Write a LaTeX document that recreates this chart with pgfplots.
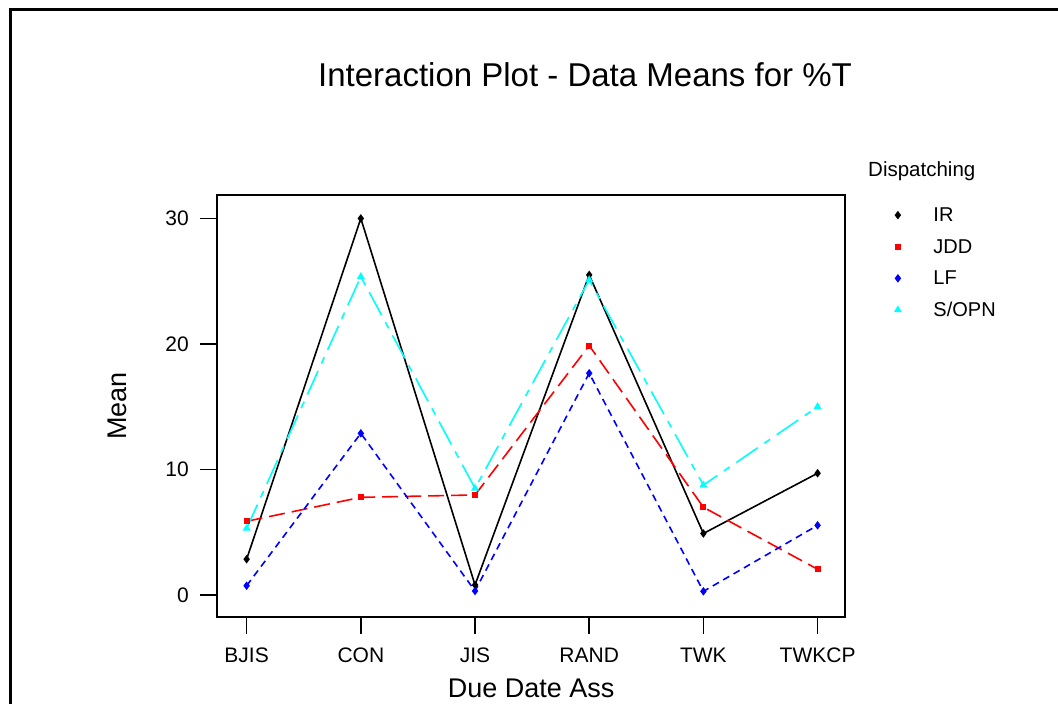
\documentclass[border=0pt]{standalone}
\usepackage{pgfplots}
\pgfplotsset{compat=1.18}
\usepackage{fontspec}
\setmainfont{Liberation Sans}
\definecolor{mcyan}{RGB}{0,255,255}
\definecolor{mred}{RGB}{255,0,0}
\definecolor{mblue}{RGB}{0,0,255}
\begin{document}
\begin{tikzpicture}[x=1pt,y=1pt]
\useasboundingbox (0,0) rectangle (1058,704);
\draw[line width=2.6pt] (10.5,0) -- (10.5,694.5) -- (1058,694.5);
\node[anchor=base, font=\fontsize{33}{36}\selectfont, inner sep=0pt] at (585,617.3) {Interaction Plot - Data Means for \%T};
\node[anchor=base west, font=\fontsize{20.5}{24}\selectfont, inner sep=0pt] at (868,527.3) {Dispatching};
\begin{axis}[
  at={(217.3pt,87.3pt)}, anchor=south west,
  scale only axis, width=627.7pt, height=421.7pt,
  xmin=-0.257, xmax=5.24, ymin=-1.73, ymax=31.87,
  xtick={0,1,2,3,4,5}, xticklabels={BJIS,CON,JIS,RAND,TWK,TWKCP},
  ytick={0,10,20,30},
  xtick pos=lower, ytick pos=left,
  tick align=outside, major tick length=17pt,
  axis line style={line width=2.2pt},
  every tick/.style={black, line width=1.5pt},
  tick label style={font=\fontsize{21}{24}\selectfont},
  xticklabel style={yshift=-10.5pt},
  yticklabel style={xshift=-8pt},
  /pgf/number format/assume math mode=true,
  xlabel={Due Date Ass}, ylabel={Mean},
  every axis x label/.style={at={(axis description cs:0.5,-0.191)}, anchor=base, font=\fontsize{27}{30}\selectfont},
  every axis y label/.style={at={(axis description cs:-0.1439,0.5)}, rotate=90, anchor=base, font=\fontsize{27}{30}\selectfont},
  legend style={at={(axis description cs:1.0801,0.968)}, anchor=north west, draw=none, fill=none,
    inner sep=0pt, outer sep=0pt, row sep=18.3pt, column sep=33pt,
    font=\fontsize{20}{24}\selectfont,
    nodes={inner sep=0pt, text height=13.3pt, text depth=0pt}, cells={anchor=west}},
  legend image code/.code={\draw[only marks] plot coordinates {(0pt,0pt)};},
]
\addplot[black, line width=1.6pt, mark=diamond*, mark size=3pt, mark options={solid}]
  coordinates {(0,2.85)(1,30.0)(2,0.8)(3,25.5)(4,4.9)(5,9.7)};
\addlegendentry{IR}
\addplot[mred, line width=1.6pt, dash pattern=on 16pt off 7pt, mark=square*, mark size=2.2pt, mark options={solid}]
  coordinates {(0,5.87)(1,7.78)(2,7.97)(3,19.87)(4,6.99)(5,2.05)};
\addlegendentry{JDD}
\addplot[mblue, line width=1.6pt, dash pattern=on 7pt off 5pt, mark=diamond*, mark size=3pt, mark options={solid}]
  coordinates {(0,0.74)(1,12.88)(2,0.32)(3,17.67)(4,0.29)(5,5.55)};
\addlegendentry{LF}
\addplot[mcyan, line width=1.6pt, dash pattern=on 26pt off 8pt on 7pt off 8pt, mark=triangle*, mark size=3pt, mark options={solid}]
  coordinates {(0,5.31)(1,25.36)(2,8.5)(3,25.1)(4,8.76)(5,15.0)};
\addlegendentry{S/OPN}
\end{axis}
\end{tikzpicture}
\end{document}
